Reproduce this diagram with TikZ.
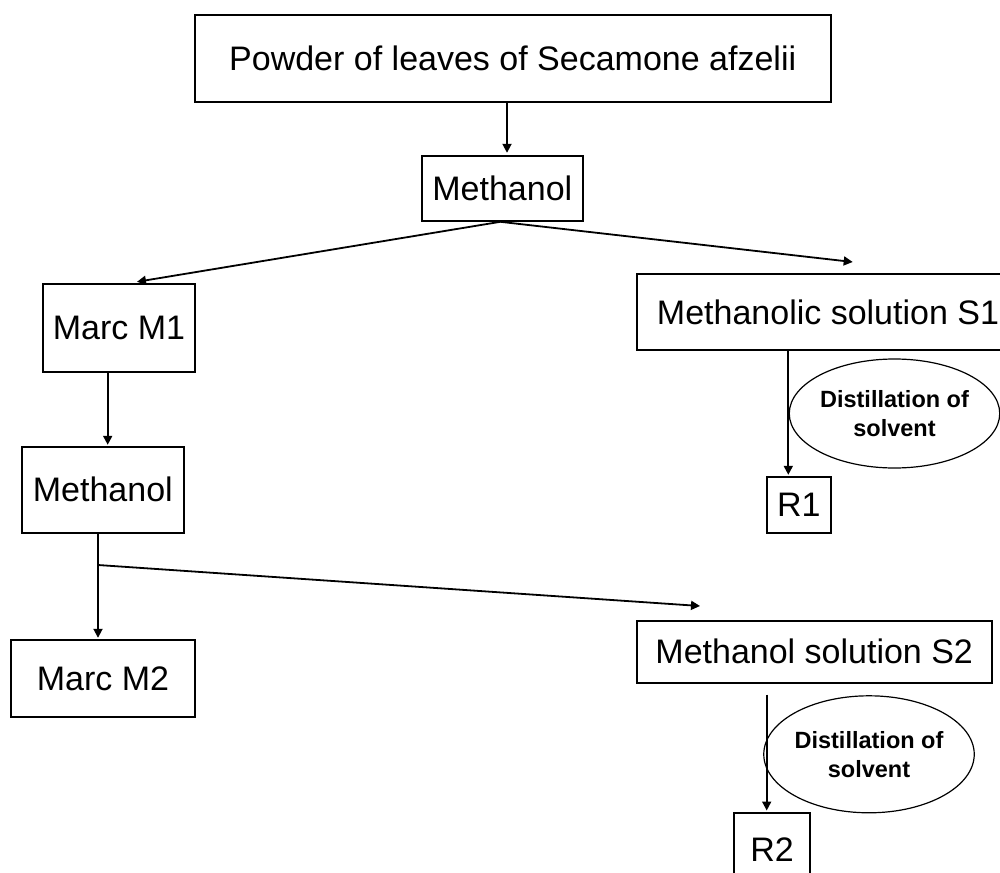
\documentclass[tikz,border=0pt]{standalone}
\usepackage{fontspec}
\setmainfont{Liberation Sans}
\usetikzlibrary{arrows.meta,shapes.geometric}
\begin{document}
\begin{tikzpicture}[x=1pt,y=-1pt,
  box/.style={draw,line width=2pt,rectangle,inner sep=0pt,font=\fontsize{34}{38}\selectfont},
  oval/.style={draw,line width=1.2pt,ellipse,inner sep=0pt,align=center,font=\fontsize{23.5}{29}\selectfont\bfseries},
  arr/.style={line width=1.8pt,-{Triangle[length=9pt,width=9pt]}},
  ln/.style={line width=1.8pt}]
\useasboundingbox (0,0) rectangle (1000,872);
\fill[white] (0,0) rectangle (1000,872);
\clip (0,0) rectangle (1000,872);

\node[box,minimum width=636pt,minimum height=87pt] (top) at (512.7,58.2) {Powder of leaves of Secamone afzelii\hspace{14pt}};
\node[box,minimum width=161pt,minimum height=65pt] (meth1) at (502.3,188.3) {Methanol};
\node[box,minimum width=152pt,minimum height=88pt] (m1) at (119,327.8) {Marc M1};
\node[box,minimum width=382pt,minimum height=76pt] (s1) at (828,312) {Methanolic solution S1};
\node[oval,minimum width=210pt,minimum height=109pt] (e1) at (894.5,413.5) {Distillation of\\solvent};
\node[box,minimum width=64pt,minimum height=56pt] (r1) at (798.8,504.8) {R1};
\node[box,minimum width=162pt,minimum height=86pt] (meth2) at (102.8,489.8) {Methanol};
\node[box,minimum width=184pt,minimum height=77pt] (m2) at (103,678.3) {Marc M2};
\node[box,minimum width=355pt,minimum height=62pt] (s2) at (814.2,651.7) {Methanol solution S2};
\node[oval,minimum width=205pt,minimum height=117pt] (e2) at (869,754.3) {Distillation of\\solvent};
\node[box,minimum width=76pt,minimum height=75pt] (r2) at (772,850) {R2};

\coordinate (br) at (98,565);

\draw[arr] ([xshift=-5.7pt]top.south) -- ([xshift=4.7pt,yshift=2pt]meth1.north);
\draw[arr] ([xshift=-2pt]meth1.south) -- ([xshift=18pt,yshift=1pt]m1.north);
\draw[arr] ([xshift=-2pt]meth1.south) -- ([xshift=24.7pt,yshift=11pt]s1.north);
\draw[arr] ([xshift=-11.3pt]m1.south) -- ([xshift=4.9pt,yshift=1pt]meth2.north);
\draw[arr] ([xshift=-4.8pt]meth2.south) -- ([xshift=-5pt,yshift=1pt]m2.north);
\draw[arr] (br) -- ([xshift=-114.2pt,yshift=13.7pt]s2.north);
\draw[arr] ([xshift=-39.7pt]s1.south) -- ([xshift=-10.5pt,yshift=1pt]r1.north);
\draw[arr] ([xshift=-47.5pt,yshift=-11pt]s2.south) -- ([xshift=-5.3pt,yshift=1pt]r2.north);
\end{tikzpicture}
\end{document}
